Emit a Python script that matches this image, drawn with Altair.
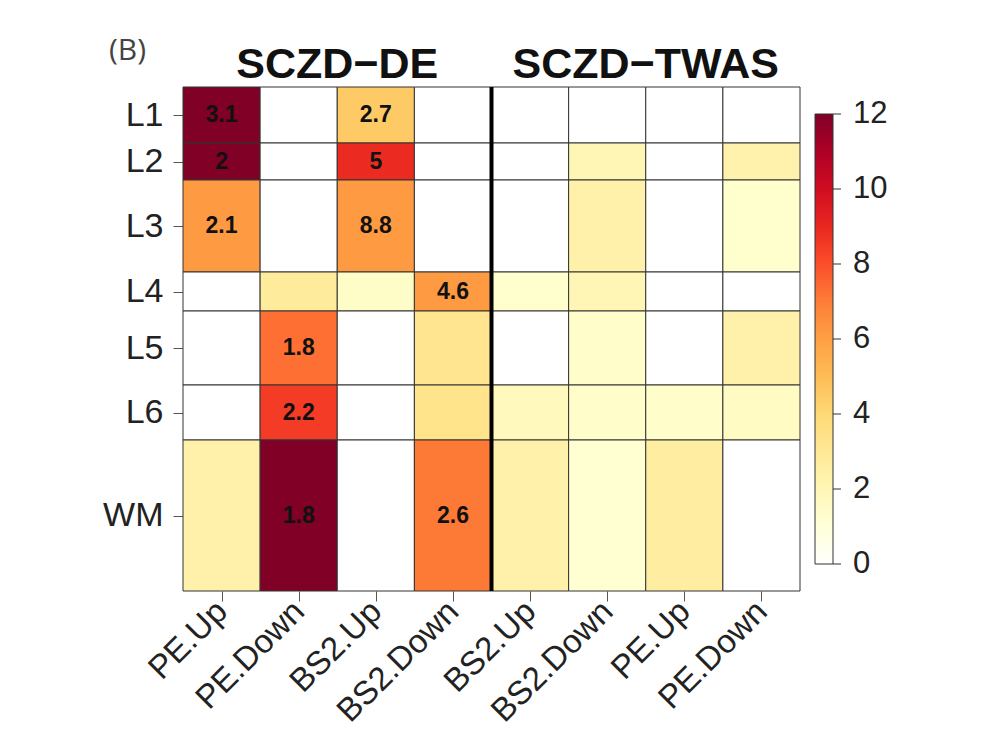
import altair as alt
import pandas as pd

# ---- data -------------------------------------------------------------
rows = ["L1", "L2", "L3", "L4", "L5", "L6", "WM"]
row_weights = [56, 37, 92, 39, 74, 55, 151]          # relative row heights
columns = ["PE.Up", "PE.Down", "BS2.Up", "BS2.Down",
           "BS2.Up", "BS2.Down", "PE.Up", "PE.Down"]
groups = ["SCZD\u2212DE", "SCZD\u2212TWAS"]
group_size = 4

# -log10(p) values (colour), one list per row, in column order
val_L1 = [12.0, 0.0, 4.5, 0.0, 0.0, 0.0, 0.0, 0.0]
val_L2 = [12.0, 0.0, 8.9, 0.0, 0.0, 2.0, 0.0, 2.3]
val_L3 = [6.2, 0.0, 6.2, 0.0, 0.0, 2.4, 0.0, 1.3]
val_L4 = [0.0, 2.8, 1.5, 6.2, 1.3, 2.0, 0.0, 0.0]
val_L5 = [0.0, 7.3, 0.0, 3.2, 0.0, 1.4, 0.0, 2.4]
val_L6 = [0.0, 8.5, 0.0, 3.3, 1.8, 1.4, 1.4, 1.6]
val_WM = [2.4, 12.0, 0.0, 7.1, 2.4, 1.2, 2.6, 0.0]

# odds ratios printed in the cells ("" = not shown)
or_L1 = ["3.1", "", "2.7", "", "", "", "", ""]
or_L2 = ["2", "", "5", "", "", "", "", ""]
or_L3 = ["2.1", "", "8.8", "", "", "", "", ""]
or_L4 = ["", "", "", "4.6", "", "", "", ""]
or_L5 = ["", "1.8", "", "", "", "", "", ""]
or_L6 = ["", "2.2", "", "", "", "", "", ""]
or_WM = ["", "1.8", "", "2.6", "", "", "", ""]

legend_ticks = [0, 2, 4, 6, 8, 10, 12]

values = [val_L1, val_L2, val_L3, val_L4, val_L5, val_L6, val_WM]
labels = [or_L1, or_L2, or_L3, or_L4, or_L5, or_L6, or_WM]

palette = ["#ffffff", "#ffffcc", "#ffeda0", "#fed976", "#feb24c",
           "#fd8d3c", "#fc4e2a", "#e31a1c", "#bd0026", "#800026"]
vmax = 12

# ---- build table --------------------------------------------------------
recs = []
y = 0
mids = []
for r, name in enumerate(rows):
    y0, y1 = y, y + row_weights[r]
    mids.append((y0 + y1) / 2)
    for c in range(len(columns)):
        recs.append(dict(row=name, col=c, x0=c, x1=c + 1, xm=c + 0.5,
                         y0=y0, y1=y1, ym=(y0 + y1) / 2,
                         value=values[r][c], label=labels[r][c]))
    y = y1
total = y
df = pd.DataFrame(recs)

gdf = pd.DataFrame({"group": groups,
                    "gx": [i * group_size + group_size / 2 for i in range(len(groups))]})
sep_df = pd.DataFrame({"sx": [group_size * (i + 1) for i in range(len(groups) - 1)]})
tick_df = pd.DataFrame({"v": legend_ticks, "lab": [str(t) for t in legend_ticks]})

W, H = 617, 504
FONT = "Liberation Sans"

# legend geometry (pixels, relative to plot origin)
LEG_X, LEG_Y, LEG_LEN, LEG_THICK = 632, 27, 450, 18

x_expr = "[" + ",".join(f"'{c}'" for c in columns) + "][floor(datum.value)]"
y_expr = " : ".join(f"datum.value == {m} ? '{n}'" for m, n in zip(mids, rows)) + " : ''"

xs = alt.Scale(domain=[0, len(columns)], nice=False, zero=False)
ys = alt.Scale(domain=[0, total], reverse=True, nice=False, zero=False)
leg_scale = alt.Scale(domain=[0, vmax], range=[LEG_Y + LEG_LEN, LEG_Y], nice=False, zero=False)

x_axis = alt.Axis(values=[c + 0.5 for c in range(len(columns))], labelExpr=x_expr,
                  title=None, grid=False, domain=False, tickSize=10, tickColor="#555",
                  labelAngle=-45, labelAlign="right", labelBaseline="middle",
                  labelFont=FONT, labelFontSize=33, labelColor="#222", labelPadding=5,
                  labelOverlap=False, labelFlush=False)
y_axis = alt.Axis(values=mids, labelExpr=y_expr, title=None, grid=False, domain=False,
                  tickSize=10, tickColor="#555", labelFont=FONT, labelFontSize=34,
                  labelColor="#222", labelPadding=10, labelOverlap=False, labelFlush=False)

rects = alt.Chart(df).mark_rect(stroke="#333", strokeWidth=1).encode(
    x=alt.X("x0:Q", scale=xs, axis=x_axis),
    x2="x1:Q",
    y=alt.Y("y0:Q", scale=ys, axis=y_axis),
    y2="y1:Q",
    color=alt.Color("value:Q",
                    scale=alt.Scale(domain=[i * vmax / (len(palette) - 1) for i in range(len(palette))],
                                    range=palette, interpolate="rgb"),
                    legend=alt.Legend(title=None, orient="none", legendX=LEG_X, legendY=LEG_Y,
                                      direction="vertical", gradientLength=LEG_LEN,
                                      gradientThickness=LEG_THICK, gradientStrokeColor="#333",
                                      gradientStrokeWidth=1, values=legend_ticks,
                                      labelOpacity=0, labelFontSize=1)),
)

texts = alt.Chart(df).transform_filter("datum.label != ''").mark_text(
    font=FONT, fontSize=23, fontWeight="bold", color="#111", baseline="middle"
).encode(x=alt.X("xm:Q", scale=xs), y=alt.Y("ym:Q", scale=ys, axis=None),
         text="label:N")

sep = alt.Chart(sep_df).mark_rule(color="black", strokeWidth=4).encode(
    x=alt.X("sx:Q", scale=xs), y=alt.value(0), y2=alt.value(H))

titles = alt.Chart(gdf).mark_text(font=FONT, fontSize=43, fontWeight="bold",
                                  color="#111", baseline="alphabetic").encode(
    x=alt.X("gx:Q", scale=xs), y=alt.value(-9), text="group:N")

tag = alt.Chart(pd.DataFrame({"t": ["(B)"]})).mark_text(
    font="Open Sans", fontSize=30, color="#444", align="left", baseline="alphabetic"
).encode(x=alt.value(-74), y=alt.value(-27), text="t:N")

# colour-bar ticks and labels (same geometry as the gradient legend)
leg_ticks = alt.Chart(tick_df).mark_rule(color="#333", strokeWidth=1).encode(
    x=alt.value(LEG_X + LEG_THICK), x2=alt.value(LEG_X + LEG_THICK + 8),
    y=alt.Y("v:Q", axis=None, scale=leg_scale))
leg_labels = alt.Chart(tick_df).mark_text(
    font=FONT, fontSize=31, color="#222", align="left", baseline="middle"
).encode(x=alt.value(LEG_X + LEG_THICK + 20),
         y=alt.Y("v:Q", axis=None, scale=leg_scale), text="lab:N")

chart = alt.layer(rects, texts, sep, titles, tag, leg_ticks, leg_labels).resolve_scale(
    y="independent"
).properties(
    width=W, height=H,
    padding={"left": 175, "top": 79, "right": 160, "bottom": 150},
    autosize=alt.AutoSizeParams(type="none"),
).configure_view(stroke=None)

chart.save("out.html", embed_options={"renderer": "svg", "actions": False})
